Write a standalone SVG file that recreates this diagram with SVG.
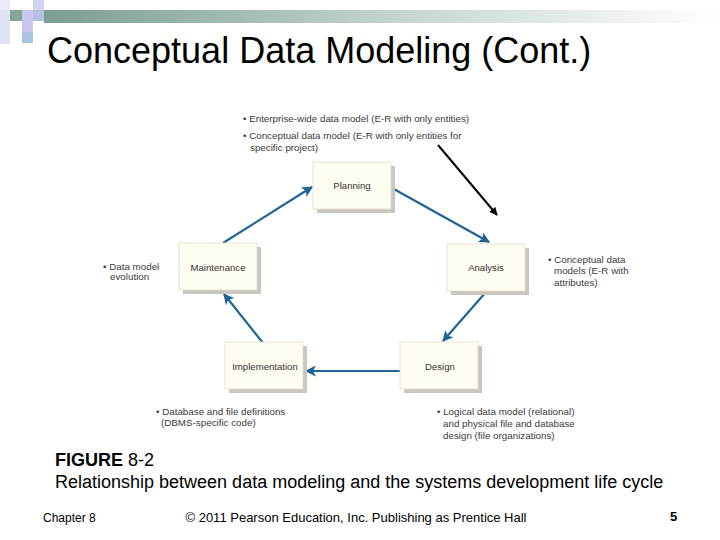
<svg xmlns="http://www.w3.org/2000/svg" width="720" height="540" viewBox="0 0 720 540">
  <defs>
    <linearGradient id="bar" x1="0" y1="0" x2="1" y2="0">
      <stop offset="0" stop-color="#7a9e8f"/>
      <stop offset="0.55" stop-color="#c9d8d1"/>
      <stop offset="1" stop-color="#ffffff"/>
    </linearGradient>
    <marker id="blue" viewBox="0 0 10 10" refX="9" refY="5" markerWidth="13" markerHeight="11" markerUnits="userSpaceOnUse" orient="auto">
      <path d="M0,0 L10,5 L0,10 L2.5,5 z" fill="#1f6496"/>
    </marker>
    <marker id="black" viewBox="0 0 10 10" refX="9" refY="5" markerWidth="9" markerHeight="8" markerUnits="userSpaceOnUse" orient="auto">
      <path d="M0,0 L10,5 L0,10 z" fill="#000"/>
    </marker>
  </defs>
  <style>
    .shadow { fill: #c9c5bf; }
    .box { fill: #fffcf2; stroke: #e4ddca; stroke-width: 0.8; }
    .lbl { font-family: "Liberation Sans", Arial, sans-serif; font-size: 9.6px; fill: #333; text-anchor: middle; }
    .note { font-family: "Liberation Sans", Arial, sans-serif; font-size: 9.8px; fill: #3a3a3a; }
    .conn { stroke: #1f6496; stroke-width: 2.2; fill: none; marker-end: url(#blue); }
  </style>
  <rect width="720" height="540" fill="#ffffff"/>

  <!-- header decoration -->
  <g id="header">
    <rect x="0" y="0" width="10" height="10" fill="#ebebf8"/>
    <rect x="0" y="10" width="10" height="34" fill="#e2e2f5"/>
    <rect x="10" y="10" width="12" height="11" fill="#86a596"/>
    <rect x="22" y="10" width="11" height="11" fill="#c8c8ee"/>
    <rect x="33" y="0" width="11" height="10" fill="#d2d2f2"/>
    <rect x="33" y="10" width="11" height="11" fill="#b4bfe2"/>
    <rect x="22" y="21" width="11" height="11" fill="#c8c8ee"/>
    <rect x="22" y="32" width="11" height="11" fill="#a8c4e0"/>
    <rect x="44" y="10" width="676" height="13" fill="url(#bar)"/>
    <text x="47" y="63" font-family="Liberation Sans, Arial, sans-serif" font-size="36" fill="#000">Conceptual Data Modeling (Cont.)</text>
  </g>

  <!-- connectors -->
  <g id="connectors">
    <line class="conn" x1="223" y1="243" x2="312" y2="187"/>
    <line class="conn" x1="392" y1="188" x2="489" y2="242"/>
    <line class="conn" x1="486" y1="292" x2="443" y2="341"/>
    <line class="conn" x1="400" y1="371" x2="306" y2="371"/>
    <line class="conn" x1="263" y1="343" x2="224" y2="294"/>
    <line x1="438" y1="145" x2="497" y2="215" stroke="#000" stroke-width="2" marker-end="url(#black)"/>
  </g>

  <!-- nodes -->
  <g id="planning">
    <rect class="shadow" x="317" y="166" width="78" height="47"/>
    <rect class="box" x="313" y="162" width="78" height="47"/>
    <text class="lbl" x="352" y="189">Planning</text>
  </g>
  <g id="maintenance">
    <rect class="shadow" x="183" y="247" width="78" height="47"/>
    <rect class="box" x="179" y="243" width="78" height="47"/>
    <text class="lbl" x="218" y="271">Maintenance</text>
  </g>
  <g id="analysis">
    <rect class="shadow" x="451" y="248" width="78" height="47"/>
    <rect class="box" x="447" y="244" width="78" height="47"/>
    <text class="lbl" x="486" y="271">Analysis</text>
  </g>
  <g id="implementation">
    <rect class="shadow" x="229" y="346" width="78" height="47"/>
    <rect class="box" x="225" y="342" width="78" height="47"/>
    <text class="lbl" x="265" y="370">Implementation</text>
  </g>
  <g id="design">
    <rect class="shadow" x="404" y="346" width="78" height="47"/>
    <rect class="box" x="400" y="342" width="78" height="47"/>
    <text class="lbl" x="440" y="370">Design</text>
  </g>

  <!-- annotations -->
  <g id="notes-planning">
    <text class="note" x="243" y="122">• Enterprise-wide data model (E-R with only entities)</text>
    <text class="note" x="243" y="139">• Conceptual data model (E-R with only entities for</text>
    <text class="note" x="250" y="151">specific project)</text>
  </g>
  <g id="notes-maintenance">
    <text class="note" x="103" y="270">• Data model</text>
    <text class="note" x="110" y="280">evolution</text>
  </g>
  <g id="notes-analysis">
    <text class="note" x="548" y="263">• Conceptual data</text>
    <text class="note" x="554" y="274">models (E-R with</text>
    <text class="note" x="554" y="286">attributes)</text>
  </g>
  <g id="notes-implementation">
    <text class="note" x="156" y="415">• Database and file definitions</text>
    <text class="note" x="161" y="426">(DBMS-specific code)</text>
  </g>
  <g id="notes-design">
    <text class="note" x="437" y="415">• Logical data model (relational)</text>
    <text class="note" x="443" y="427">and physical file and database</text>
    <text class="note" x="443" y="439">design (file organizations)</text>
  </g>

  <!-- caption -->
  <g id="caption" font-family="Liberation Sans, Arial, sans-serif" fill="#000">
    <text x="55" y="466" font-size="18"><tspan font-weight="bold">FIGURE</tspan> 8-2</text>
    <text x="55" y="488" font-size="18">Relationship between data modeling and the systems development life cycle</text>
  </g>

  <!-- footer -->
  <g id="footer" font-family="Liberation Sans, Arial, sans-serif" fill="#000">
    <text x="43" y="522" font-size="12">Chapter 8</text>
    <text x="356" y="522" font-size="13" text-anchor="middle">© 2011 Pearson Education, Inc. Publishing as Prentice Hall</text>
    <text x="670" y="521" font-size="13" font-weight="bold">5</text>
  </g>
</svg>
